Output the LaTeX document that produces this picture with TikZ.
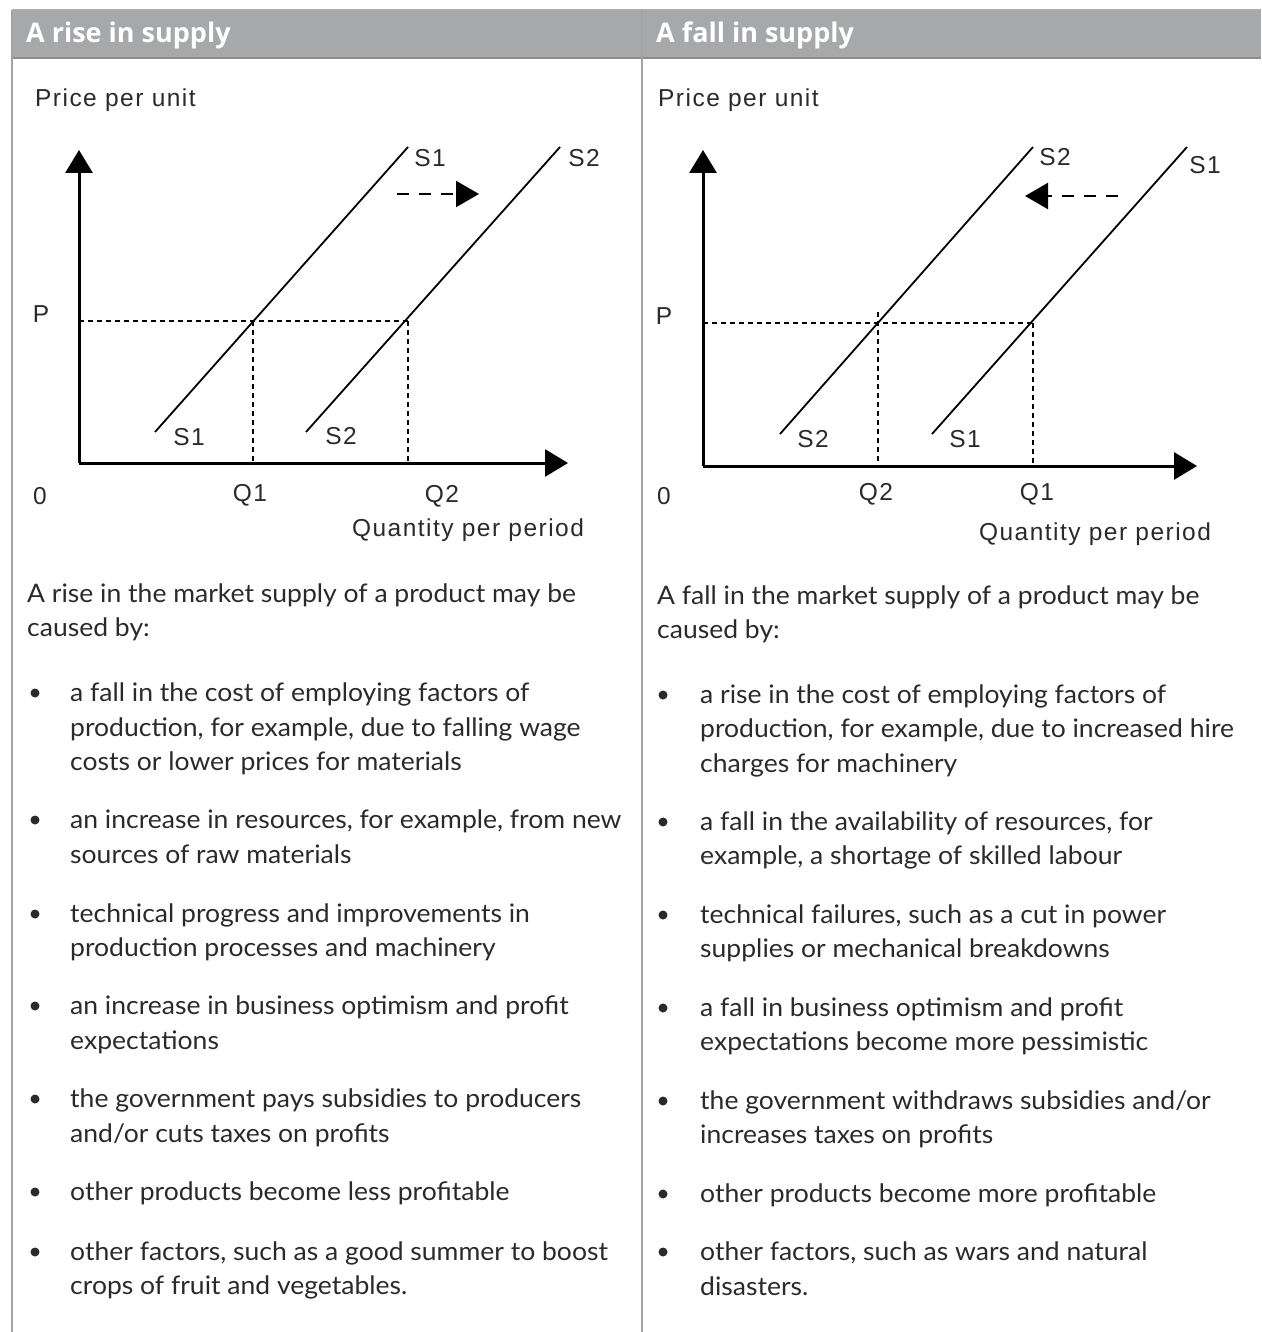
\documentclass[tikz,border=0pt]{standalone}
\usepackage{fontspec}
\setmainfont[FakeStretch=1.04]{Lato}
\newfontfamily\graphfont[LetterSpace=6]{Liberation Sans}
\newfontfamily\headfont{Open Sans}
\usetikzlibrary{arrows.meta}
\definecolor{hdrgray}{HTML}{A7A8AA}
\definecolor{rulegray}{HTML}{8C8C8C}
\definecolor{txt}{HTML}{2A2A2A}
\tikzset{
  hdr/.style={anchor=west, inner sep=0pt, text=white, font=\headfont\bfseries\fontsize{27}{30}\selectfont},
  body/.style={anchor=base west, inner sep=0pt, text=txt, font=\fontsize{25.5}{30}\selectfont},
  glab/.style={inner sep=0pt, text=txt, font=\graphfont\fontsize{24.5}{28}\selectfont},
  axis/.style={line width=3pt, -{Triangle[length=23pt,width=27pt]}},
  supply/.style={line width=1.8pt},
  guide/.style={line width=2.2pt, dash pattern=on 5pt off 4pt},
  shiftarrow/.style={line width=2.2pt, dash pattern=on 12pt off 10pt, -{Triangle[length=23pt,width=26pt]}},
  dot/.style={circle, fill=txt, inner sep=0pt, minimum size=9pt}
}
\begin{document}
\begin{tikzpicture}[x=1pt,y=-1pt]
\useasboundingbox (0,0) rectangle (1261,1332);
% table frame
\fill[hdrgray] (12,10) rectangle (1261,58);
\draw[rulegray!70, line width=1pt] (12,10) -- (1261,10);
\draw[rulegray, line width=1.5pt] (12,58) -- (1261,58);
\draw[rulegray!80, line width=1.5pt] (12,10) -- (12,1332);
\draw[rulegray!80, line width=1.5pt] (642,10) -- (642,1332);
\node[hdr] (h1) at (26,35) {A rise in supply};
\node[hdr] (h2) at (656,35) {A fall in supply};

% ===== left graph =====
\node[glab, anchor=base west] (pu1) at (35,107) {Price per unit};
\coordinate (O1) at (79,463);
\coordinate (Y1) at (79,150);
\coordinate (X1) at (568,463);
\draw[axis] (O1) -- (Y1);
\draw[axis] (O1) -- (X1);
\coordinate (a1) at (155,432); \coordinate (b1) at (408,147);
\coordinate (a2) at (306,432); \coordinate (b2) at (560,147);
\draw[supply] (a1) -- (b1);
\draw[supply] (a2) -- (b2);
\coordinate (Pl) at (79,321);
\coordinate (E1) at (253,321);
\coordinate (E2) at (408,321);
\coordinate (Q1b) at (253,463);
\coordinate (Q2b) at (408,463);
\draw[guide] (Pl) -- (E2);
\draw[guide] (E1) -- (Q1b);
\draw[guide] (E2) -- (Q2b);
\coordinate (sa1) at (397,194); \coordinate (sa2) at (479,194);
\draw[shiftarrow] (sa1) -- (sa2);
\node[glab] (P1) at (41,314) {P};
\node[glab] (z1) at (40,496) {0};
\node[glab] (q1) at (250,495) {Q1};
\node[glab] (q2) at (442,496) {Q2};
\node[glab] (s1t) at (430,158) {S1};
\node[glab] (s2t) at (584,158) {S2};
\node[glab] (s1b) at (189,437) {S1};
\node[glab] (s2b) at (341,436) {S2};
\node[glab, anchor=base] (qp1) at (468,536) {Quantity per period};

% ===== right graph =====
\node[glab, anchor=base west] (pu2) at (658,107) {Price per unit};
\coordinate (O2) at (703,466);
\coordinate (Y2) at (703,150);
\coordinate (X2) at (1197,466);
\draw[axis] (O2) -- (Y2);
\draw[axis] (O2) -- (X2);
\coordinate (c1) at (780,434); \coordinate (d1) at (1033,147);
\coordinate (c2) at (932,434); \coordinate (d2) at (1187,147);
\draw[supply] (c1) -- (d1);
\draw[supply] (c2) -- (d2);
\coordinate (Pr) at (703,323);
\coordinate (F1) at (878,323);
\coordinate (F2) at (1033,323);
\coordinate (Q2t) at (878,312);
\coordinate (Q2c) at (878,466);
\coordinate (Q1c) at (1033,466);
\draw[guide] (Pr) -- (F2);
\draw[guide] (Q2t) -- (Q2c);
\draw[guide] (F2) -- (Q1c);
\coordinate (sb1) at (1118,196); \coordinate (sb2) at (1025,196);
\draw[shiftarrow] (sb1) -- (sb2);
\node[glab] (P2) at (664,316) {P};
\node[glab] (z2) at (664,496) {0};
\node[glab] (q22) at (876,494) {Q2};
\node[glab] (q12) at (1037,494) {Q1};
\node[glab] (s2t2) at (1055,157) {S2};
\node[glab] (s1t2) at (1205,165) {S1};
\node[glab] (s2b2) at (813,439) {S2};
\node[glab] (s1b2) at (965,439) {S1};
\node[glab, anchor=base] (qp2) at (1095,540) {Quantity per period};

% ===== left text =====
\node[body] (lp1) at (27,602) {A rise in the market supply of a product may be};
\node[body] (lp2) at (27,636) {caused by:};
\node[dot] (ld1) at (35,693) {};
\node[body] (l1a) at (70,701) {a fall in the cost of employing factors of};
\node[body] (l1b) at (70,736) {production, for example, due to falling wage};
\node[body] (l1c) at (70,770) {costs or lower prices for materials};
\node[dot] (ld2) at (35,820) {};
\node[body] (l2a) at (70,828) {an increase in resources, for example, from new};
\node[body] (l2b) at (70,863) {sources of raw materials};
\node[dot] (ld3) at (35,914) {};
\node[body] (l3a) at (70,922) {technical progress and improvements in};
\node[body] (l3b) at (70,956) {production processes and machinery};
\node[dot] (ld4) at (35,1006) {};
\node[body] (l4a) at (70,1014) {an increase in business optimism and profit};
\node[body] (l4b) at (70,1049) {expectations};
\node[dot] (ld5) at (35,1099) {};
\node[body] (l5a) at (70,1107) {the government pays subsidies to producers};
\node[body] (l5b) at (70,1142) {and/or cuts taxes on profits};
\node[dot] (ld6) at (35,1192) {};
\node[body] (l6a) at (70,1200) {other products become less profitable};
\node[dot] (ld7) at (35,1252) {};
\node[body] (l7a) at (70,1260) {other factors, such as a good summer to boost};
\node[body] (l7b) at (70,1294) {crops of fruit and vegetables.};

% ===== right text =====
\node[body] (rp1) at (657,604) {A fall in the market supply of a product may be};
\node[body] (rp2) at (657,638) {caused by:};
\node[dot] (rd1) at (663,695) {};
\node[body] (r1a) at (700,703) {a rise in the cost of employing factors of};
\node[body] (r1b) at (700,737) {production, for example, due to increased hire};
\node[body] (r1c) at (700,772) {charges for machinery};
\node[dot] (rd2) at (663,822) {};
\node[body] (r2a) at (700,830) {a fall in the availability of resources, for};
\node[body] (r2b) at (700,864) {example, a shortage of skilled labour};
\node[dot] (rd3) at (663,915) {};
\node[body] (r3a) at (700,923) {technical failures, such as a cut in power};
\node[body] (r3b) at (700,957) {supplies or mechanical breakdowns};
\node[dot] (rd4) at (663,1008) {};
\node[body] (r4a) at (700,1016) {a fall in business optimism and profit};
\node[body] (r4b) at (700,1050) {expectations become more pessimistic};
\node[dot] (rd5) at (663,1101) {};
\node[body] (r5a) at (700,1109) {the government withdraws subsidies and/or};
\node[body] (r5b) at (700,1143) {increases taxes on profits};
\node[dot] (rd6) at (663,1194) {};
\node[body] (r6a) at (700,1202) {other products become more profitable};
\node[dot] (rd7) at (663,1252) {};
\node[body] (r7a) at (700,1260) {other factors, such as wars and natural};
\node[body] (r7b) at (700,1295) {disasters.};
\end{tikzpicture}
\end{document}
